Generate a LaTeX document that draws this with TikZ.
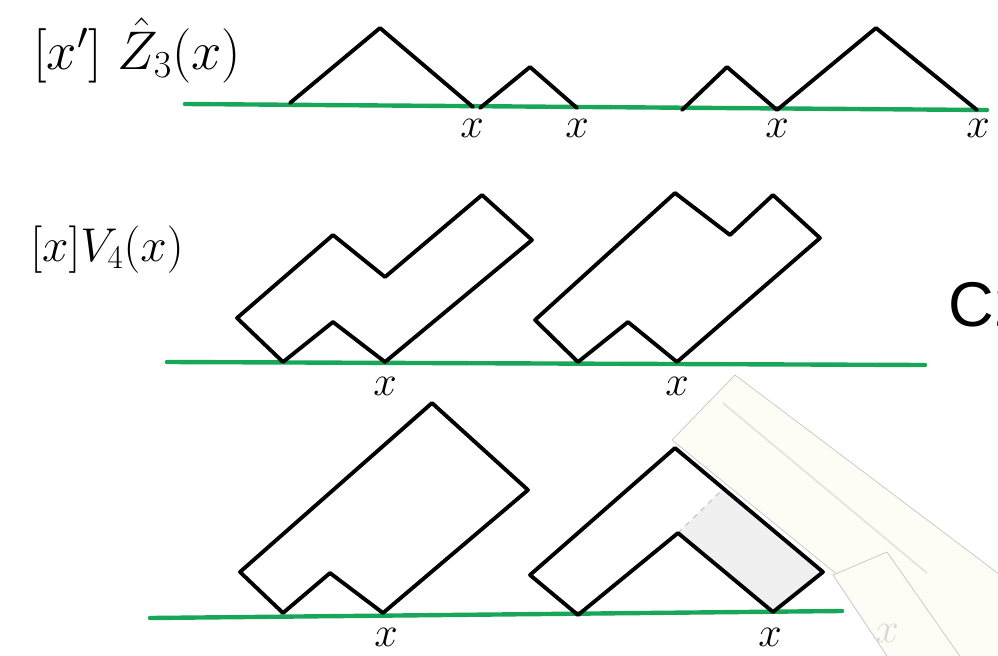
\RequirePackage{fix-cm}
\documentclass[tikz,border=0pt]{standalone}
\usepackage{fontspec}
\setsansfont{Liberation Sans}
\definecolor{axisgreen}{RGB}{24,166,88}
\definecolor{tapecream}{RGB}{253,253,245}
\usetikzlibrary{positioning}

\begin{document}
\begin{tikzpicture}[x=0.02cm, y=-0.02cm,
    ground/.style={line width=2.5pt, draw=axisgreen, line cap=round},
    walk/.style={line width=2.2pt, line join=round, line cap=round},
    xlbl/.style={font=\fontsize{24}{24}\selectfont, inner sep=0pt},
    rowlbl/.style={inner sep=0pt, anchor=west},
    tape/.style={fill=tapecream, draw=gray!45, line width=0.4pt}
  ]
    \useasboundingbox (0,0) rectangle (998,656);
    \clip (0,0) rectangle (998,656);

    % --- tape pieces on the scan ---
    \filldraw[tape] (672,440) -- (735,375) -- (1040,605) -- (1040,740) -- cycle;
    \filldraw[tape] (833,575) -- (887,552) -- (966,665) -- (893,665) -- cycle;
    \draw[gray!22, line width=1pt] (723,403) -- (927,573);
    \node[xlbl, text=gray!30] (ghostx) at (887,633) {$x$};

    % --- row 1: Z3 hat ---
    \node[rowlbl, font=\fontsize{31}{34}\selectfont] (ztitle) at (33,50) {$[x']\;\hat{Z}_3(x)$};
    \draw[ground] (185,104) -- (987,110);
    \draw[walk] (290,103) -- (380,28) -- (473,107);
    \draw[walk] (480,108) -- (530,67) -- (577,108);
    \draw[walk] (682,110) -- (727,67) -- (777,110) -- (876,28) -- (977,110);
    \node[xlbl] (x1) at (472,128) {$x$};
    \node[xlbl] (x2) at (577,128) {$x$};
    \node[xlbl] (x3) at (777,128) {$x$};
    \node[xlbl] (x4) at (978,128) {$x$};

    % --- row 2: V4 ---
    \node[rowlbl, font=\fontsize{27}{30}\selectfont] (vtitle) at (30,250) {$[x]V_4(x)$};
    \draw[ground] (167,362) -- (925,365);
    \draw[walk] (237,318) -- (333,235) -- (385,277) -- (482,195) -- (532,240)
                -- (385,362) -- (333,322) -- (283,362) -- cycle;
    \draw[walk] (535,320) -- (675,193) -- (730,235) -- (773,195) -- (820,238)
                -- (677,362) -- (628,322) -- (578,362) -- cycle;
    \node[xlbl] (x5) at (385,386) {$x$};
    \node[xlbl] (x6) at (677,386) {$x$};
    \node[font=\sffamily\fontsize{36}{36}\selectfont, inner sep=0pt, anchor=west] (ctag) at (948,305) {C2};

    % --- row 3 ---
    \draw[ground] (150,618) -- (842,611);
    \fill[gray!12] (678,533) -- (722,490) -- (823,572) -- (773,612) -- cycle;
    \draw[gray!40, line width=0.8pt, dashed] (678,533) -- (722,490);
    \draw[walk] (240,572) -- (432,403) -- (528,490) -- (383,613) -- (330,573)
                -- (283,613) -- cycle;
    \draw[walk] (530,575) -- (675,448) -- (823,572) -- (773,612) -- (678,533)
                -- (578,615) -- cycle;
    \node[xlbl] (x7) at (386,637) {$x$};
    \node[xlbl] (x8) at (770,637) {$x$};
  \end{tikzpicture}
\end{document}
